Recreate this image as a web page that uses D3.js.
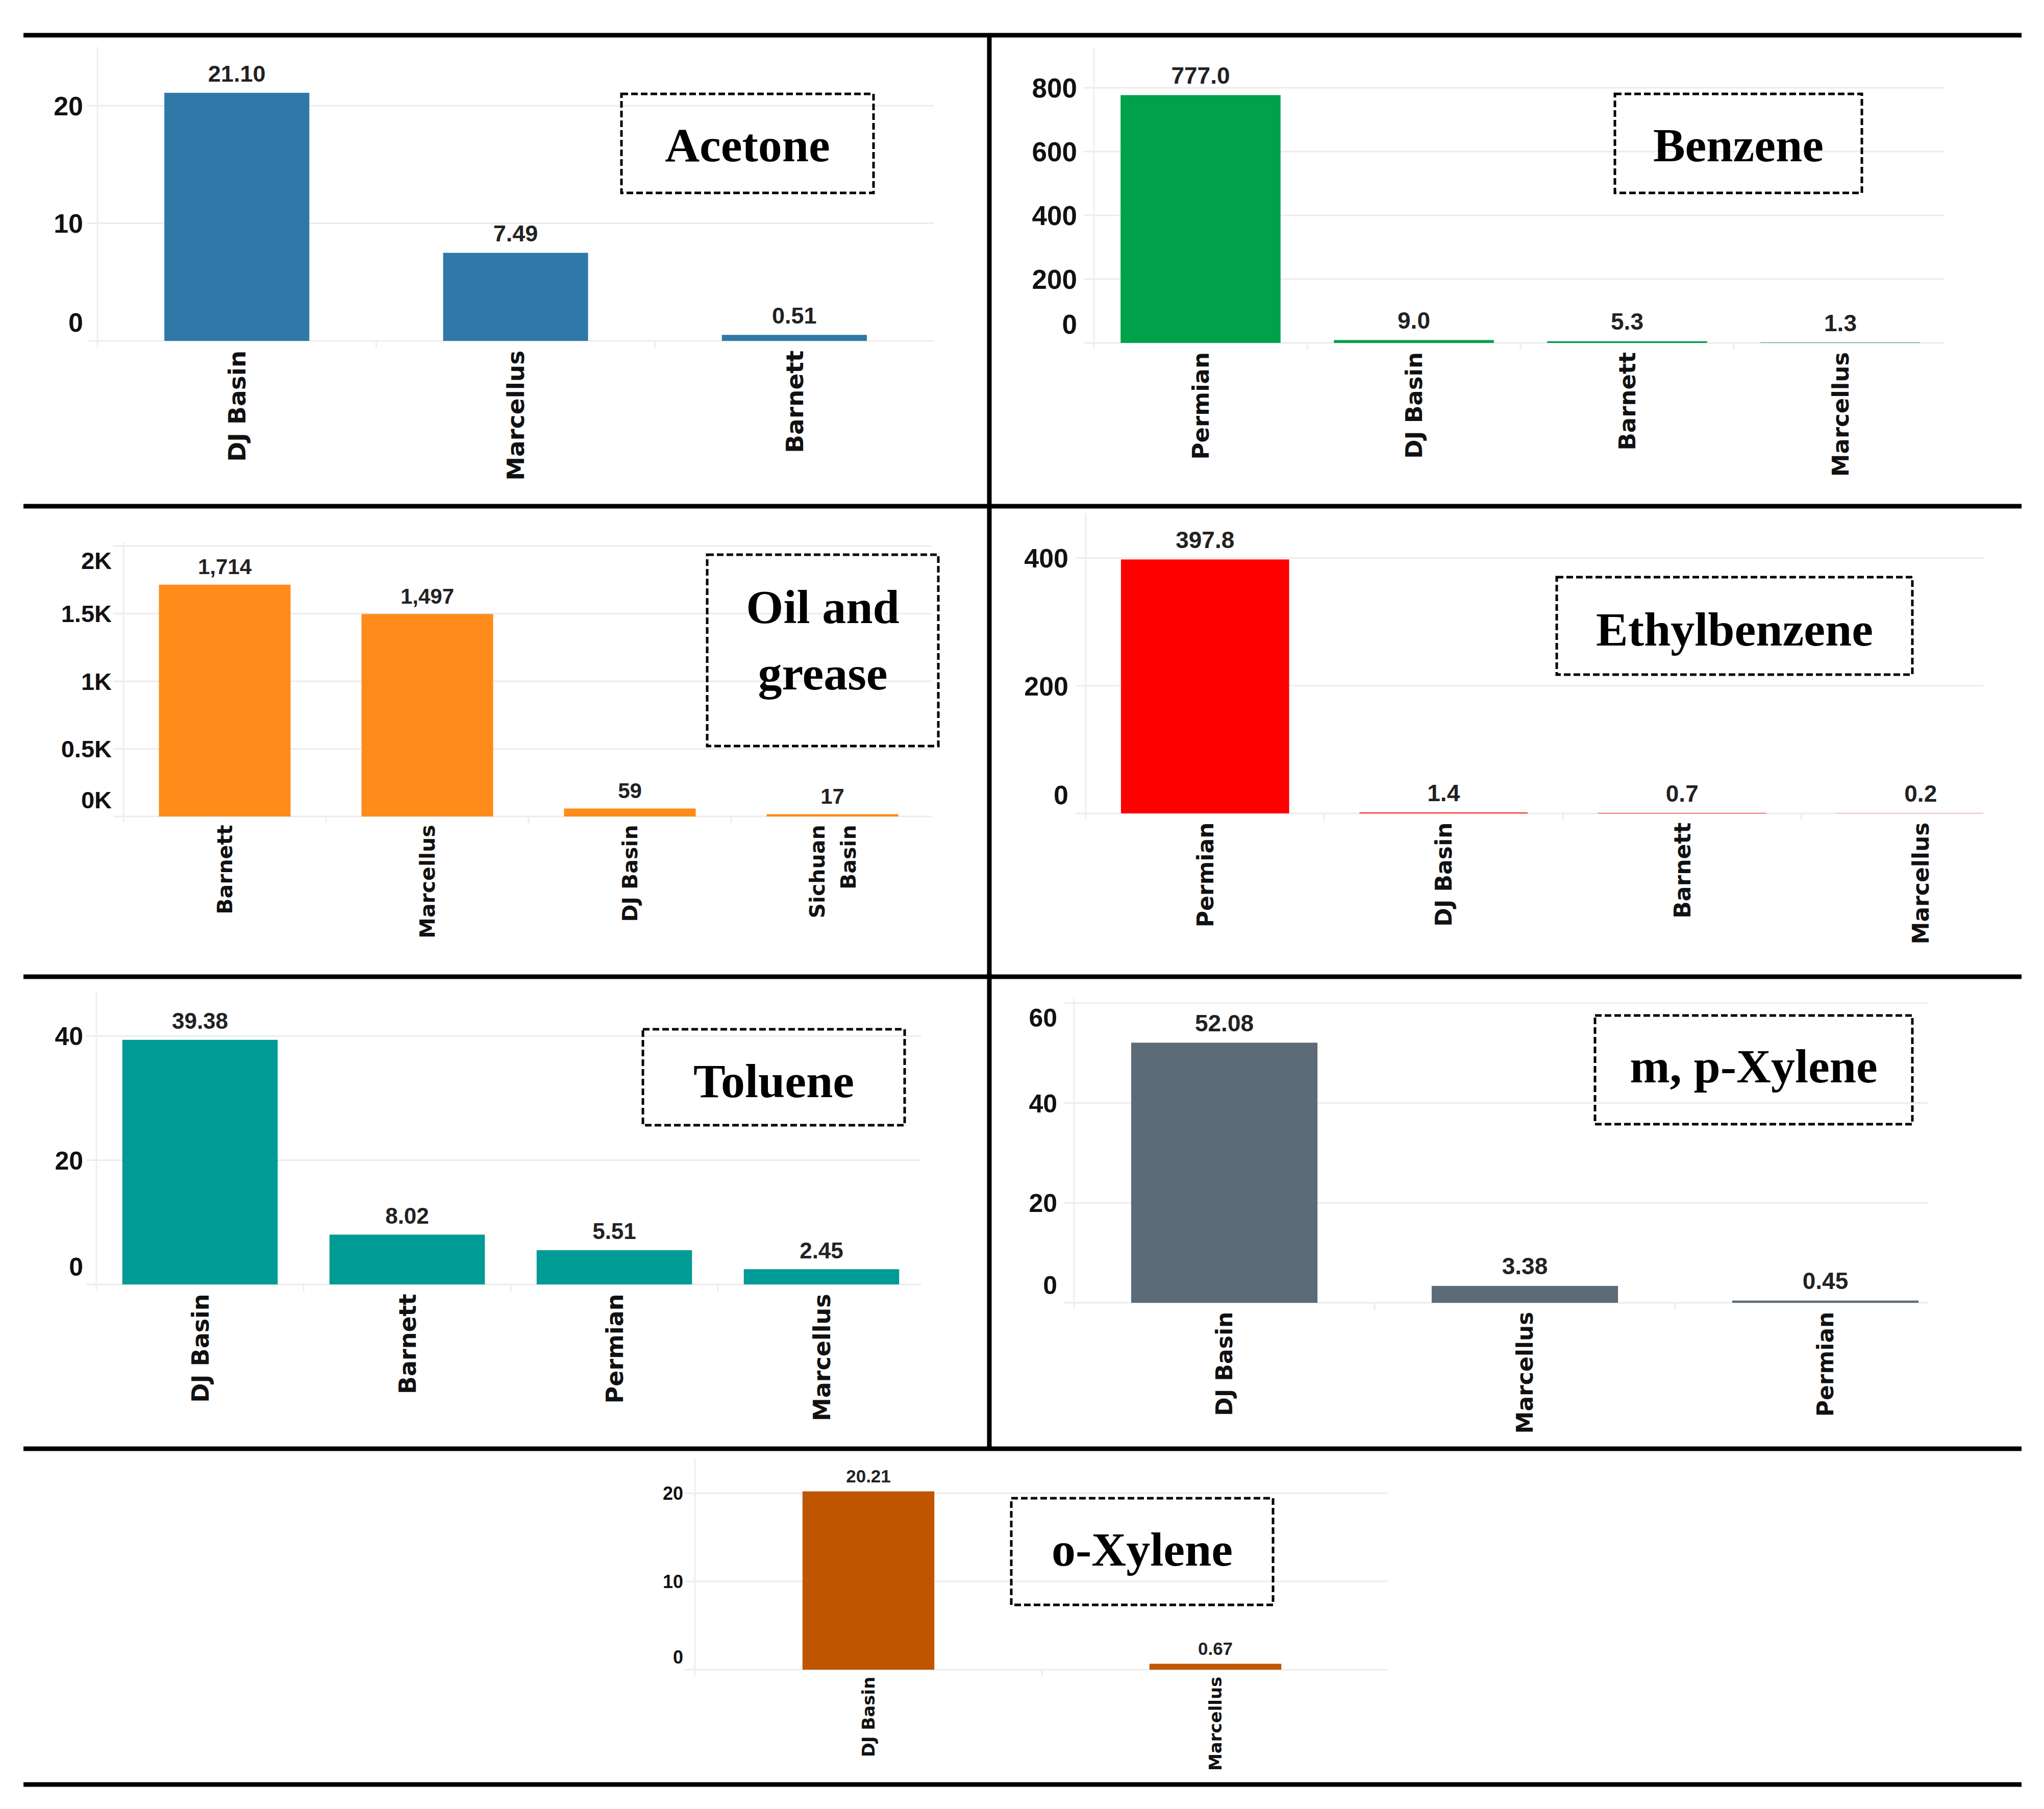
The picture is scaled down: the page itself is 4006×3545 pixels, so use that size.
<!DOCTYPE html>
<html><head><meta charset="utf-8">
<script src="https://cdn.jsdelivr.net/npm/d3@7"></script>
<style>html,body{margin:0;padding:0;background:#fff;} svg{display:block;}</style>
</head><body>
<script>
// ---------------- DATA ----------------
const acetoneCategories = ["DJ Basin", "Marcellus", "Barnett"];
const acetoneValues = [21.10, 7.49, 0.51];
const acetoneTicks = [0, 10, 20];
const acetoneTickLabels = ["0", "10", "20"];

const benzeneCategories = ["Permian", "DJ Basin", "Barnett", "Marcellus"];
const benzeneValues = [777.0, 9.0, 5.3, 1.3];
const benzeneTicks = [0, 200, 400, 600, 800];
const benzeneTickLabels = ["0", "200", "400", "600", "800"];

const oilCategories = ["Barnett", "Marcellus", "DJ Basin", "Sichuan Basin"];
const oilValues = [1714, 1497, 59, 17];
const oilTicks = [0, 500, 1000, 1500, 2000];
const oilTickLabels = ["0K", "0.5K", "1K", "1.5K", "2K"];

const ethylCategories = ["Permian", "DJ Basin", "Barnett", "Marcellus"];
const ethylValues = [397.8, 1.4, 0.7, 0.2];
const ethylTicks = [0, 200, 400];
const ethylTickLabels = ["0", "200", "400"];

const tolueneCategories = ["DJ Basin", "Barnett", "Permian", "Marcellus"];
const tolueneValues = [39.38, 8.02, 5.51, 2.45];
const tolueneTicks = [0, 20, 40];
const tolueneTickLabels = ["0", "20", "40"];

const mpXyleneCategories = ["DJ Basin", "Marcellus", "Permian"];
const mpXyleneValues = [52.08, 3.38, 0.45];
const mpXyleneTicks = [0, 20, 40, 60];
const mpXyleneTickLabels = ["0", "20", "40", "60"];

const oXyleneCategories = ["DJ Basin", "Marcellus"];
const oXyleneValues = [20.21, 0.67];
const oXyleneTicks = [0, 10, 20];
const oXyleneTickLabels = ["0", "10", "20"];

const titles = {
  acetone: ["Acetone"], benzene: ["Benzene"], oil: ["Oil and", "grease"],
  ethyl: ["Ethylbenzene"], toluene: ["Toluene"], mp: ["m, p-Xylene"], ox: ["o-Xylene"]
};

// ---------------- LAYOUT ----------------
const W = 4006, H = 3545;
const panels = [
  {cats: acetoneCategories, vals: acetoneValues, ticks: acetoneTicks, tickLabels: acetoneTickLabels, fmt: d3.format(".2f"),
   color: "#2E79A7", title: titles.acetone,
   axisX: 191, rangeEnd: 1830, gridEnd: 1830, top: 92, baseline: 668, yMax: 25, tickX: 163,
   tickFont: 52, valueFont: 45, catFont: 47, pad: 0.48,
   box: [1218, 184, 1712, 378], titleBase: [316]},
  {cats: benzeneCategories, vals: benzeneValues, ticks: benzeneTicks, tickLabels: benzeneTickLabels, fmt: d3.format(".1f"),
   color: "#00A14B", title: titles.benzene,
   axisX: 2144, rangeEnd: 3816, gridEnd: 3811, top: 92, baseline: 672, yMax: 928, tickX: 2111,
   tickFont: 53, valueFont: 46, catFont: 45, pad: 0.25,
   box: [3165, 184, 3649, 378], titleBase: [316]},
  {cats: oilCategories, vals: oilValues, ticks: oilTicks, tickLabels: oilTickLabels, fmt: d3.format(",.0f"),
   color: "#FF8C1A", title: titles.oil,
   axisX: 242, rangeEnd: 1830, gridEnd: 1827, top: 1062, baseline: 1600, yMax: 2030, tickX: 219,
   tickFont: 47, valueFont: 42, catFont: 41, pad: 0.35,
   box: [1386, 1087, 1839, 1462], titleBase: [1221, 1351]},
  {cats: ethylCategories, vals: ethylValues, ticks: ethylTicks, tickLabels: ethylTickLabels, fmt: d3.format(".1f"),
   color: "#FF0000", title: titles.ethyl,
   axisX: 2128, rangeEnd: 3998, gridEnd: 3887, top: 1006, baseline: 1594, yMax: 470, tickX: 2094,
   tickFont: 52, valueFont: 46, catFont: 44, pad: 0.295,
   box: [3051, 1131, 3748, 1322], titleBase: [1265]},
  {cats: tolueneCategories, vals: tolueneValues, ticks: tolueneTicks, tickLabels: tolueneTickLabels, fmt: d3.format(".2f"),
   color: "#009B95", title: titles.toluene,
   axisX: 189, rangeEnd: 1813, gridEnd: 1805, top: 1945, baseline: 2517, yMax: 47, tickX: 163,
   tickFont: 50, valueFont: 44, catFont: 46, pad: 0.25,
   box: [1260, 2017, 1773, 2205], titleBase: [2150]},
  {cats: mpXyleneCategories, vals: mpXyleneValues, ticks: mpXyleneTicks, tickLabels: mpXyleneTickLabels, fmt: d3.format(".2f"),
   color: "#5D6B78", title: titles.mp,
   axisX: 2105, rangeEnd: 3872, gridEnd: 3778, top: 1956, baseline: 2553, yMax: 61, tickX: 2072,
   tickFont: 50, valueFont: 46, catFont: 44, pad: 0.38,
   box: [3126, 1990, 3748, 2203], titleBase: [2121]},
  {cats: oXyleneCategories, vals: oXyleneValues, ticks: oXyleneTicks, tickLabels: oXyleneTickLabels, fmt: d3.format(".2f"),
   color: "#C05500", title: titles.ox,
   axisX: 1362, rangeEnd: 2722, gridEnd: 2719, top: 2857, baseline: 3272, yMax: 24, tickX: 1339,
   tickFont: 36, valueFont: 35, catFont: 34, pad: 0.62,
   box: [1982, 2936, 2495, 3145], titleBase: [3068]}
];

const svg = d3.select("body").append("svg").attr("width", W).attr("height", H)
  .attr("viewBox", `0 0 ${W} ${H}`);
svg.append("rect").attr("width", W).attr("height", H).attr("fill", "#fff");

const SANS = "'Liberation Sans', Arial, sans-serif";
const WIDE = "'DejaVu Sans', Verdana, sans-serif";
const SERIF = "'Liberation Serif', 'Times New Roman', serif";

function drawPanel(p) {
  const g = svg.append("g");
  const x = d3.scaleBand().domain(p.cats).range([p.axisX, p.rangeEnd])
    .paddingInner(p.pad).paddingOuter(p.pad / 2);
  const y = d3.scaleLinear().domain([0, p.yMax]).range([p.baseline, p.top]);

  // gridlines
  g.append("g").selectAll("line").data(p.ticks).join("line")
    .attr("x1", p.axisX - 20).attr("x2", p.gridEnd)
    .attr("y1", d => y(d)).attr("y2", d => y(d))
    .attr("stroke", "#ececec").attr("stroke-width", 3);

  // vertical axis line
  g.append("line").attr("x1", p.axisX).attr("x2", p.axisX)
    .attr("y1", p.top).attr("y2", p.baseline + 12)
    .attr("stroke", "#efefef").attr("stroke-width", 3);

  // band separators
  const step = x.step();
  g.append("g").selectAll("line").data(d3.range(1, p.cats.length)).join("line")
    .attr("x1", i => p.axisX + i * step).attr("x2", i => p.axisX + i * step)
    .attr("y1", p.baseline).attr("y2", p.baseline + 14)
    .attr("stroke", "#ededed").attr("stroke-width", 3);

  // bars
  g.append("g").selectAll("rect").data(p.vals).join("rect")
    .attr("x", (d, i) => x(p.cats[i]))
    .attr("width", (d, i) => Math.max(0, Math.min(x.bandwidth(), p.gridEnd - x(p.cats[i]))))
    .attr("y", d => y(d)).attr("height", d => y(0) - y(d))
    .attr("fill", p.color);

  // value labels
  g.append("g").selectAll("text").data(p.vals).join("text")
    .attr("x", (d, i) => x(p.cats[i]) + x.bandwidth() / 2)
    .attr("y", d => y(d) - p.valueFont * 0.85)
    .attr("dy", "0.36em")
    .attr("text-anchor", "middle")
    .attr("font-family", SANS).attr("font-weight", "bold")
    .attr("font-size", p.valueFont).attr("fill", "#222")
    .text(d => p.fmt(d));

  // y axis labels
  const yAxis = d3.axisLeft(y).tickValues(p.ticks)
    .tickFormat((d, i) => p.tickLabels[i]).tickSize(0).tickPadding(0);
  const ya = g.append("g").attr("transform", `translate(${p.tickX},0)`).call(yAxis);
  ya.select(".domain").remove();
  const topLim = p.top + p.tickFont * 0.76;
  const botLim = p.baseline - p.tickFont * 0.7;
  ya.selectAll(".tick").attr("transform", d => `translate(0,${Math.max(topLim, Math.min(botLim, y(d)))})`);
  ya.selectAll("text").attr("x", 0).attr("dy", "0.36em").attr("text-anchor", "end")
    .attr("font-family", SANS).attr("font-weight", "bold")
    .attr("font-size", p.tickFont).attr("fill", "#111");

  // x axis category labels
  const xAxis = d3.axisBottom(x).tickSize(0).tickPadding(0);
  const xa = g.append("g").attr("transform", `translate(0,${p.baseline + p.catFont * 0.4})`).call(xAxis);
  xa.select(".domain").remove();
  xa.selectAll("text").each(function(d) {
    const t = d3.select(this);
    t.attr("transform", "rotate(-90)").attr("text-anchor", "end")
      .attr("x", 0).attr("y", 0).attr("dy", null)
      .attr("font-family", WIDE).attr("font-weight", "bold")
      .attr("font-size", p.catFont).attr("fill", "#111");
    const words = d.split(" ");
    if (d.length > 12 && words.length > 1) {
      t.text(null);
      const off = p.catFont * 0.75;
      t.append("tspan").attr("x", 0).attr("y", -off).attr("dy", "0.36em").text(words[0]);
      t.append("tspan").attr("x", 0).attr("y", off).attr("dy", "0.36em").text(words.slice(1).join(" "));
    } else {
      t.attr("dy", "0.36em");
    }
  });

  // title box
  const [bx0, by0, bx1, by1] = p.box;
  g.append("rect").attr("x", bx0).attr("y", by0).attr("width", bx1 - bx0).attr("height", by1 - by0)
    .attr("fill", "none").attr("stroke", "#000").attr("stroke-width", 5)
    .attr("stroke-dasharray", "13,6");
  p.title.forEach((line, i) => {
    g.append("text").attr("x", (bx0 + bx1) / 2).attr("y", p.titleBase[i])
      .attr("text-anchor", "middle")
      .attr("font-family", SERIF).attr("font-weight", "bold")
      .attr("font-size", 94).attr("fill", "#000").text(line);
  });
}

panels.forEach(drawPanel);

// frame lines
const frameY = [69, 992, 1914, 2839, 3497];
svg.append("g").selectAll("line").data(frameY).join("line")
  .attr("x1", 46).attr("x2", 3962).attr("y1", d => d).attr("y2", d => d)
  .attr("stroke", "#000").attr("stroke-width", 9);
svg.append("line").attr("x1", 1939).attr("x2", 1939).attr("y1", 69).attr("y2", 2839)
  .attr("stroke", "#000").attr("stroke-width", 9);
</script>
</body></html>
